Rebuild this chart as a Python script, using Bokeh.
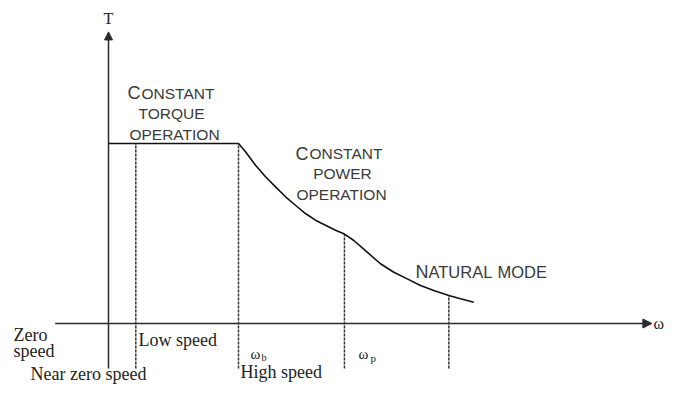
from bokeh.plotting import figure
from bokeh.models import Range1d, Label, Arrow, NormalHead
from bokeh.embed import file_html
from bokeh.resources import INLINE

# ---- data (speed in units of base speed wb, torque in units of rated torque) ----
omega_curve = [0.0, 1.0, 1.054, 1.131, 1.208, 1.285, 1.362, 1.438, 1.515, 1.592,
               1.669, 1.746, 1.815, 1.887, 1.990, 2.092, 2.195, 2.298, 2.400,
               2.502, 2.618, 2.708, 2.810]
torque_curve = [1.0, 1.0, 0.954, 0.879, 0.815, 0.759, 0.704, 0.657, 0.611, 0.574,
                0.546, 0.518, 0.497, 0.461, 0.396, 0.332, 0.285, 0.248, 0.211,
                0.183, 0.156, 0.137, 0.118]

marker_speeds = [0.21, 1.0, 1.815, 2.618]    # near-zero, wb, wp, natural-mode point
marker_torques = [1.0, 1.0, 0.497, 0.156]
marker_bottom = -0.25

axis_T_bottom = -0.25
axis_T_top = 1.62
axis_w_left = -0.41
axis_w_right = 4.18

# ---- layout helpers (picture pixels -> data) ----
W, H = 664, 384
OX, OY = 108, 323          # picture position of the origin
SX, SY = 130.0, 180.0      # pixels per unit


def dx(X):
    return (X - OX) / SX


def dy(Y):
    return (OY - Y) / SY


p = figure(width=W, height=H, output_backend="svg", toolbar_location=None,
           x_range=Range1d(dx(0), dx(W)), y_range=Range1d(dy(H), dy(0)),
           x_axis_location=None, y_axis_location=None, min_border=0)
p.grid.visible = False
p.outline_line_color = None
p.background_fill_color = "white"

AX = "#2a2a2a"

# axes
p.segment(x0=[0.0], y0=[axis_T_bottom], x1=[0.0], y1=[axis_T_top - 0.03],
          line_color=AX, line_width=1.5)
p.add_layout(Arrow(end=NormalHead(size=8, fill_color=AX, line_color=AX),
                   x_start=0.0, y_start=axis_T_top - 0.05, x_end=0.0, y_end=axis_T_top,
                   line_color=AX, line_width=1.5))
p.segment(x0=[axis_w_left], y0=[0.0], x1=[axis_w_right - 0.05], y1=[0.0],
          line_color=AX, line_width=1.5)
p.add_layout(Arrow(end=NormalHead(size=9, fill_color=AX, line_color=AX),
                   x_start=axis_w_right - 0.08, y_start=0.0, x_end=axis_w_right, y_end=0.0,
                   line_color=AX, line_width=1.5))

# dotted speed markers
p.segment(x0=marker_speeds, y0=[marker_bottom] * len(marker_speeds),
          x1=marker_speeds, y1=marker_torques,
          line_color="#333333", line_width=1.5, line_dash="3 1")

# torque-speed curve
p.line(omega_curve, torque_curve, line_color="#111111", line_width=1.6,
       line_join="round")

SANS = "Liberation Sans"
SERIF = "Liberation Serif"
TXT = "#3a3a3a"
STXT = "#222222"
YC = 5  # baseline correction (rendered baseline sits a little low)


def lab(X, Y, text, size, font, align="left", color=TXT):
    p.add_layout(Label(x=dx(X), y=dy(Y - YC), text=text, text_font=font,
                       text_font_size=f"{size}px", text_align=align,
                       text_baseline="alphabetic", text_color=color))


# small-caps style region labels
BIG, SMALL = 18, 15.5
lab(127, 97.5, "C", BIG, SANS)
lab(141, 97.5, "ONSTANT", SMALL, SANS)
lab(171, 118, "TORQUE", SMALL, SANS, "center")
lab(174, 139, "OPERATION", SMALL, SANS, "center")

lab(295, 158, "C", BIG, SANS)
lab(309, 158, "ONSTANT", SMALL, SANS)
lab(342, 177.5, "POWER", SMALL, SANS, "center")
lab(341, 198.5, "OPERATION", SMALL, SANS, "center")

lab(415, 276, "N", BIG, SANS)
lab(428, 276, "ATURAL", 16.5, SANS)
lab(497, 276, "MODE", 16.5, SANS)

# axis titles
lab(108, 23, "T", 16, SERIF, "center", STXT)
lab(653, 328, "ω", 16, SERIF, "left", STXT)

# speed region labels
lab(13, 339, "Zero", 18, SERIF, color=STXT)
lab(13, 355, "speed", 18, SERIF, color=STXT)
lab(138, 344, "Low speed", 18, SERIF, color=STXT)
lab(250, 358, "ω", 15, SERIF, color=STXT)
lab(261, 362, "b", 10, SERIF, color=STXT)
lab(358, 358, "ω", 15, SERIF, color=STXT)
lab(370, 362, "p", 11, SERIF, color=STXT)
lab(30, 378, "Near zero speed", 18, SERIF, color=STXT)
lab(240, 376, "High speed", 18, SERIF, color=STXT)

open("out.html", "w").write(file_html(p, INLINE))
